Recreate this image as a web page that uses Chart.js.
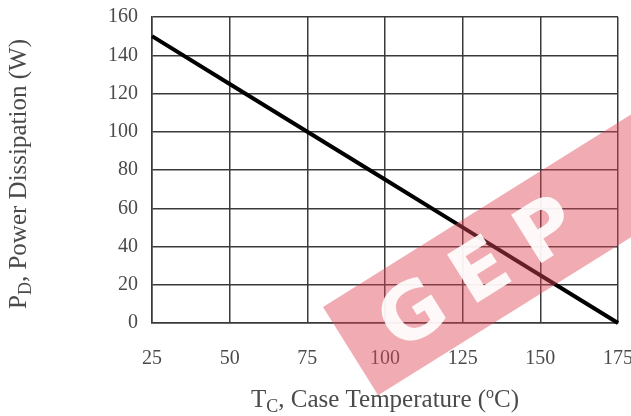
<!DOCTYPE html>
<html>
<head>
<meta charset="utf-8">
<script src="https://cdn.jsdelivr.net/npm/chart.js@4.4.0/dist/chart.umd.min.js"></script>
<style>
  html, body { margin: 0; padding: 0; background: #fff; }
  #wrap { width: 631px; height: 416px; position: relative; }
</style>
</head>
<body>
<div id="wrap"><canvas id="pd"></canvas></div>
<script>
// Derating curve: case temperature vs power dissipation
const caseTemp = [25, 50, 75, 100, 125, 150, 175];
const powerDiss = [150, 125, 100, 75, 50, 25, 0];
const xTicks = [25, 50, 75, 100, 125, 150, 175];
const yTicks = [0, 20, 40, 60, 80, 100, 120, 140, 160];

const SERIF = "'Liberation Serif', 'DejaVu Serif', serif";
const GRID = "#3a3a3a";
const TEXT = "#4a4a4a";

// axis titles with subscripts / superscripts drawn by hand
const axisTitles = {
  id: "axisTitles",
  afterDraw(chart) {
    const c = chart.ctx;
    const a = chart.chartArea;
    c.save();
    c.fillStyle = TEXT;
    c.textBaseline = "alphabetic";

    function runs(parts) {
      let w = 0;
      parts.forEach(p => { c.font = p.size + "px " + SERIF; w += c.measureText(p.t).width; });
      return w;
    }
    function drawRuns(parts, x, y) {
      parts.forEach(p => {
        c.font = p.size + "px " + SERIF;
        c.fillText(p.t, x, y + (p.dy || 0));
        x += c.measureText(p.t).width;
      });
    }

    const xParts = [
      { t: "T", size: 25 }, { t: "C", size: 18, dy: 5 },
      { t: ", Case Temperature (", size: 25 }, { t: "o", size: 16, dy: -9 },
      { t: "C)", size: 25 }
    ];
    const xw = runs(xParts);
    drawRuns(xParts, (a.left + a.right) / 2 - xw / 2, 407);

    const yParts = [
      { t: "P", size: 25 }, { t: "D", size: 18, dy: 5 },
      { t: ", Power Dissipation (W)", size: 25 }
    ];
    const yw = runs(yParts);
    c.translate(26, (a.top + a.bottom) / 2 + 4);
    c.rotate(-Math.PI / 2);
    drawRuns(yParts, -yw / 2, 0);
    c.restore();
  }
};

// translucent red watermark band over the lower right
const watermark = {
  id: "watermark",
  afterDraw(chart) {
    const c = chart.ctx;
    c.save();
    c.translate(323, 307);
    c.rotate(-32 * Math.PI / 180);
    c.fillStyle = "rgba(222, 70, 84, 0.45)";
    c.fillRect(0, 0, 420, 104);
    c.fillStyle = "rgba(255,255,255,0.92)";
    c.font = "bold 78px 'DejaVu Sans', sans-serif";
    c.textBaseline = "middle";
    c.letterSpacing = "22px";
    c.fillText("GEP", 40, 58);
    c.restore();
  }
};

new Chart(document.getElementById("pd"), {
  type: "line",
  data: {
    datasets: [{
      data: caseTemp.map((t, i) => ({ x: t, y: powerDiss[i] })),
      borderColor: "#000",
      borderWidth: 4,
      pointRadius: 0,
      tension: 0,
      clip: false
    }]
  },
  plugins: [axisTitles, watermark],
  options: {
    responsive: true,
    maintainAspectRatio: false,
    animation: false,
    events: [],
    layout: { padding: { top: 17, right: 13, left: 0, bottom: 0 } },
    plugins: { legend: { display: false }, tooltip: { enabled: false } },
    scales: {
      x: {
        type: "linear",
        min: 25,
        max: 175,
        afterBuildTicks: s => { s.ticks = xTicks.map(v => ({ value: v })); },
        afterFit: s => { s.height = 416 - 323; s.paddingLeft = 0; s.paddingRight = 0; },
        grid: { color: GRID, lineWidth: 1.5, drawTicks: false },
        border: { color: GRID, width: 1.5 },
        ticks: { padding: 24, color: TEXT, font: { family: SERIF, size: 20 }, maxRotation: 0 }
      },
      y: {
        min: 0,
        max: 160,
        afterBuildTicks: s => { s.ticks = yTicks.map(v => ({ value: v })); },
        afterFit: s => { s.width = 152; s.paddingTop = 0; s.paddingBottom = 0; },
        grid: { color: GRID, lineWidth: 1.5, drawTicks: false },
        border: { color: GRID, width: 1.5 },
        ticks: { padding: 14, color: TEXT, font: { family: SERIF, size: 20 } }
      }
    }
  }
});
</script>
</body>
</html>
